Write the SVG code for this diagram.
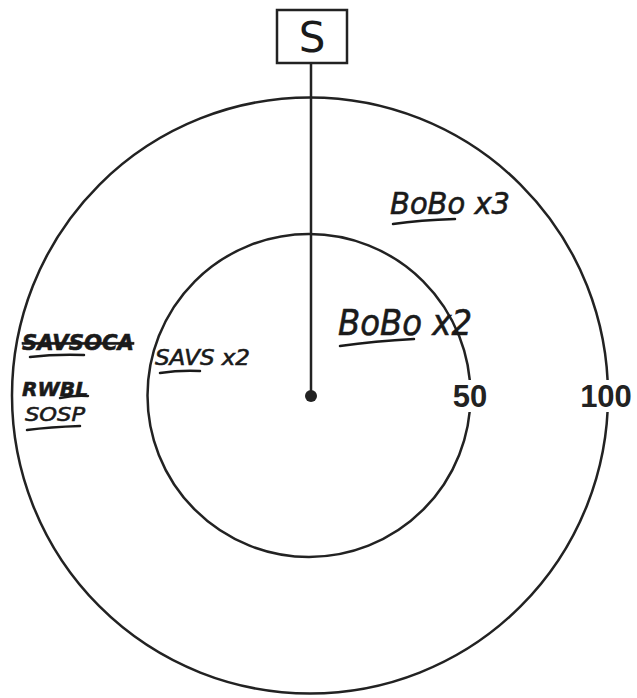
<svg xmlns="http://www.w3.org/2000/svg" width="637" height="698" viewBox="0 0 637 698">
<style>
.ring{fill:none;stroke:#222;stroke-width:2.5}
.hand{font-family:"DejaVu Sans",sans-serif;font-style:italic;fill:#1a1a1a;stroke:#1a1a1a;stroke-width:0.6}
.ul{fill:none;stroke:#1a1a1a;stroke-width:2.5;stroke-linecap:round}
.num{font-family:"Liberation Sans",Arial,sans-serif;font-weight:bold;font-size:31px;fill:#222;text-anchor:middle}
</style>
<rect width="637" height="698" fill="#fff"/>
<g id="rings">
<circle class="ring" cx="310" cy="395.5" r="298"/>
<circle class="ring" cx="309" cy="395.5" r="161.5"/>
</g>
<g id="connectors">
<line x1="311" y1="63" x2="311" y2="396" stroke="#222" stroke-width="2.5"/>
</g>
<g id="station">
<rect x="277" y="10" width="70" height="53" fill="#fff" stroke="#222" stroke-width="2.5"/>
<text x="312" y="52" font-family="DejaVu Sans,sans-serif" font-size="42" text-anchor="middle" fill="#1a1a1a">S</text>
</g>
<g id="center">
<circle cx="311" cy="396" r="6" fill="#222"/>
</g>
<g id="label50">
<rect x="450" y="380" width="40" height="32" fill="#fff"/>
<text class="num" x="470" y="407">50</text>
</g>
<g id="label100">
<rect x="579" y="380" width="54" height="32" fill="#fff"/>
<text class="num" x="606" y="407">100</text>
</g>
<g id="bobo3">
<text class="hand" x="390" y="214" font-size="30" textLength="120" lengthAdjust="spacingAndGlyphs">BoBo x3</text>
<path class="ul" d="M393 224 Q420 220 455 219"/>
</g>
<g id="bobo2">
<text class="hand" x="338" y="335" font-size="36" textLength="134" lengthAdjust="spacingAndGlyphs">BoBo x2</text>
<path class="ul" d="M340 346 Q375 341 414 339"/>
</g>
<g id="savs2">
<text class="hand" x="155" y="365" font-size="22" textLength="95" lengthAdjust="spacingAndGlyphs">SAVS x2</text>
<path class="ul" d="M160 373 Q180 370 200 371"/>
</g>
<g id="crossed">
<text class="hand" x="22" y="350" font-size="22" font-weight="bold" textLength="112" lengthAdjust="spacingAndGlyphs" text-decoration="line-through">SAVSOCA</text>
<path class="ul" d="M30 357 Q55 354 84 355"/>
</g>
<g id="rwbl">
<text class="hand" x="22" y="396" font-size="20" font-weight="bold" textLength="66" lengthAdjust="spacingAndGlyphs">RWBL</text>
<path class="ul" d="M60 398 Q75 395 88 396"/>
</g>
<g id="sosp">
<text class="hand" x="25" y="421" font-size="20" textLength="60" lengthAdjust="spacingAndGlyphs">SOSP</text>
<path class="ul" d="M27 430 Q50 427 80 426"/>
</g>
</svg>
